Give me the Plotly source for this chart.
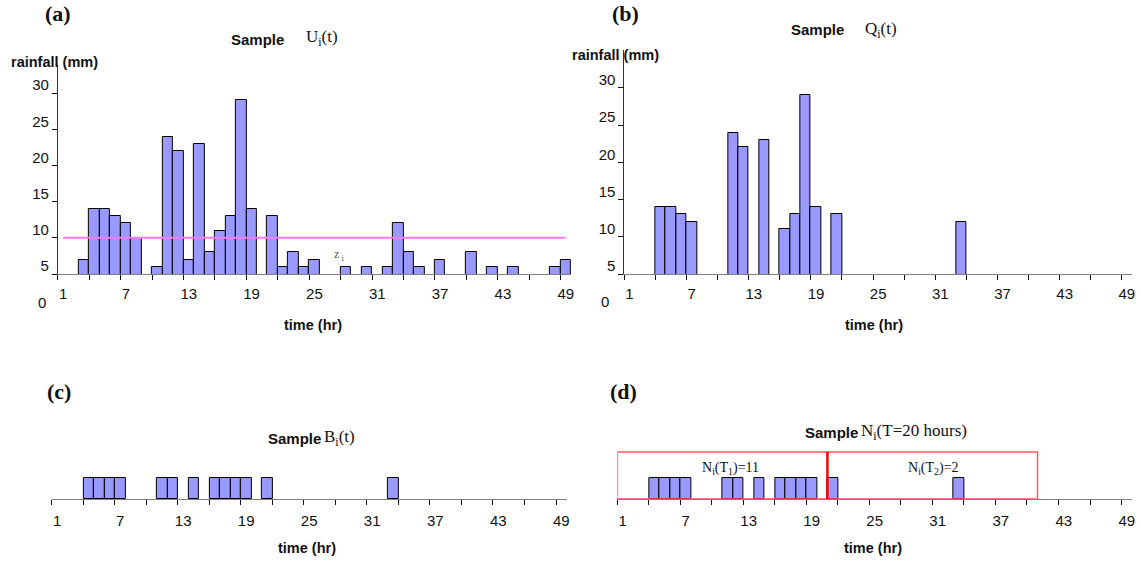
import plotly.graph_objects as go

# ---------------- data ----------------
hours = list(range(1, 50))
x_tick_labels = ["1", "7", "13", "19", "25", "31", "37", "43", "49"]
y_tick_vals = [5, 10, 15, 20, 25, 30]

# (a) sample U_i(t): rainfall (mm) per hour (None = no rain shown)
rain_U = [None, None, 7, 14, 14, 13, 12, 10, None, 6,
          24, 22, 7, 23, 8, 11, 13, 29, 14, None,
          13, 6, 8, 6, 7, None, None, 6, None, 6,
          None, 6, 12, 8, 6, None, 7, None, None, 8,
          None, 6, None, 6, None, None, None, 6, 7]
threshold = 10

# (b) sample Q_i(t): rainfall above threshold
rain_Q = [None, None, None, 14, 14, 13, 12, None, None, None,
          24, 22, None, 23, None, 11, 13, 29, 14, None,
          13, None, None, None, None, None, None, None, None, None,
          None, None, 12, None, None, None, None, None, None, None,
          None, None, None, None, None, None, None, None, None]

# (c) sample B_i(t): binary occurrence
occ_B = [0, 0, 0, 1, 1, 1, 1, 0, 0, 0,
         1, 1, 0, 1, 0, 1, 1, 1, 1, 0,
         1, 0, 0, 0, 0, 0, 0, 0, 0, 0,
         0, 0, 1, 0, 0, 0, 0, 0, 0, 0,
         0, 0, 0, 0, 0, 0, 0, 0, 0]

# (d) counting windows of T = 20 hours
window_T = 20
n_windows = 2
counts_N = ["11", "2"]

# ---------------- styling helpers ----------------
W, H = 1141, 565
BAR_FILL = "#9999FF"
SANS = "Arial, Liberation Sans, sans-serif"
SERIF = "Liberation Serif, Times New Roman, serif"


def px_x(x):
    return x / W


def px_y(y):
    return 1 - y / H


bar_style = dict(color=BAR_FILL, line=dict(color="black", width=1))
occ_vals = [v if v else None for v in occ_B]

fig = go.Figure()
fig.add_trace(go.Bar(x=hours, y=rain_U, width=1, marker=bar_style, xaxis="x", yaxis="y"))
fig.add_trace(go.Scatter(x=[hours[0], hours[-1]], y=[threshold, threshold], mode="lines",
                         line=dict(color="#F27CF2", width=2), xaxis="x", yaxis="y"))
fig.add_trace(go.Bar(x=hours, y=rain_Q, width=1, marker=bar_style, xaxis="x2", yaxis="y2"))
fig.add_trace(go.Bar(x=hours, y=occ_vals, width=1, marker=bar_style, xaxis="x3", yaxis="y3"))
fig.add_trace(go.Bar(x=hours, y=occ_vals, width=1, marker=bar_style, xaxis="x4", yaxis="y4"))


def xaxis_cfg(dom, anchor, standoff):
    return dict(domain=dom, anchor=anchor, range=[0.5, 49.5],
                tickmode="array", tickvals=[int(t) for t in x_tick_labels], ticktext=x_tick_labels,
                ticks="", ticklabelstandoff=standoff,
                tickfont=dict(family=SANS, size=15, color="#111"),
                showline=True, linecolor="#808080", linewidth=1.3,
                showgrid=False, zeroline=False,
                minor=dict(tick0=0.5, dtick=3, ticks="outside", ticklen=5,
                           tickcolor="#111", tickwidth=1, showgrid=False))


def yaxis_cfg(dom, anchor, rng):
    return dict(domain=dom, anchor=anchor, range=rng,
                tickmode="array", tickvals=y_tick_vals,
                ticks="outside", ticklen=5, tickcolor="#111",
                ticklabelshift=-8,
                tickfont=dict(family=SANS, size=15, color="#111"),
                showline=True, linecolor="#333", linewidth=1,
                showgrid=False, zeroline=False)


fig.update_layout(
    width=W, height=H,
    margin=dict(l=0, r=0, t=0, b=0),
    paper_bgcolor="white", plot_bgcolor="rgba(0,0,0,0)",
    showlegend=False, bargap=0,
    xaxis=xaxis_cfg([px_x(58), px_x(572.5)], "y", 6),
    yaxis=yaxis_cfg([px_y(274), px_y(65)], "x", [5, 33.9]),
    xaxis2=xaxis_cfg([px_x(626), px_x(1135)], "y2", 6),
    yaxis2=yaxis_cfg([px_y(274), px_y(50)], "x2", [5, 35.1]),
    xaxis3=xaxis_cfg([px_x(52), px_x(568)], "y3", 8),
    yaxis3=dict(domain=[px_y(499), px_y(451)], anchor="x3", range=[0, 2.3], visible=False),
    xaxis4=xaxis_cfg([px_x(619), px_x(1135)], "y4", 8),
    yaxis4=dict(domain=[px_y(499), px_y(451)], anchor="x4", range=[0, 2.3], visible=False),
)

# counting windows in (d)
edges = [0.5 + k * window_T for k in range(n_windows + 1)]
fig.add_shape(type="rect", xref="x4", yref="y4", x0=edges[0], x1=edges[-1], y0=0, y1=2.25,
              line=dict(color="#FF5A5A", width=1.5), fillcolor="rgba(0,0,0,0)")
for e in edges[1:-1]:
    fig.add_shape(type="line", xref="x4", yref="y4", x0=e, x1=e, y0=0, y1=2.25,
                  line=dict(color="#FF0000", width=2.5))


def note(text, x, y, size=15, family=SANS, color="#111", xanchor="center"):
    fig.add_annotation(text=text, x=px_x(x), y=px_y(y), xref="paper", yref="paper",
                       xanchor=xanchor, yanchor="middle", showarrow=False,
                       font=dict(family=family, size=size, color=color))


# panel letters
note("<b>(a)</b>", 58, 14, 22, SERIF)
note("<b>(b)</b>", 627, 14, 22, SERIF)
note("<b>(c)</b>", 59, 391, 22, SERIF)
note("<b>(d)</b>", 625, 391, 22, SERIF)

# titles
note("<b>Sample</b>", 287, 39, 15, SANS, xanchor="right")
note("U<sub>i</sub>(t)", 305, 38, 17, SERIF, xanchor="left")
note("<b>Sample</b>", 848, 30, 15, SANS, xanchor="right")
note("Q<sub>i</sub>(t)", 865, 30, 17, SERIF, xanchor="left")
note("<b>Sample</b>", 267, 438, 15, SANS, xanchor="left")
note("B<sub>i</sub>(t)", 323, 438, 17, SERIF, xanchor="left")
note("<b>Sample</b>", 805, 432, 15, SANS, xanchor="left")
note("N<sub>i</sub>(T=20 hours)", 861, 432, 17, SERIF, xanchor="left")

# axis titles
note("<b>rainfall (mm)</b>", 55, 62, 14.5)
note("<b>rainfall (mm)</b>", 617, 55, 14.5)
note("<b>time (hr)</b>", 314, 325, 14.5)
note("<b>time (hr)</b>", 876, 325, 14.5)
note("<b>time (hr)</b>", 308, 548, 14.5)
note("<b>time (hr)</b>", 875, 548, 14.5)

# stray zero labels
note("0", 42, 302, 15)
note("0", 607, 301, 15)

# z_i marker label
note("z<sub> i</sub>", 340, 255, 12, SERIF, color="#555")

# window counts
note("N<sub>i</sub>(T<sub>1</sub>)=" + counts_N[0], 732, 468, 14, SERIF)
note("N<sub>i</sub>(T<sub>2</sub>)=" + counts_N[1], 936, 468, 14, SERIF)

fig.write_html("out.html", post_script="document.body.style.margin='0';",
               config={"displayModeBar": False})
